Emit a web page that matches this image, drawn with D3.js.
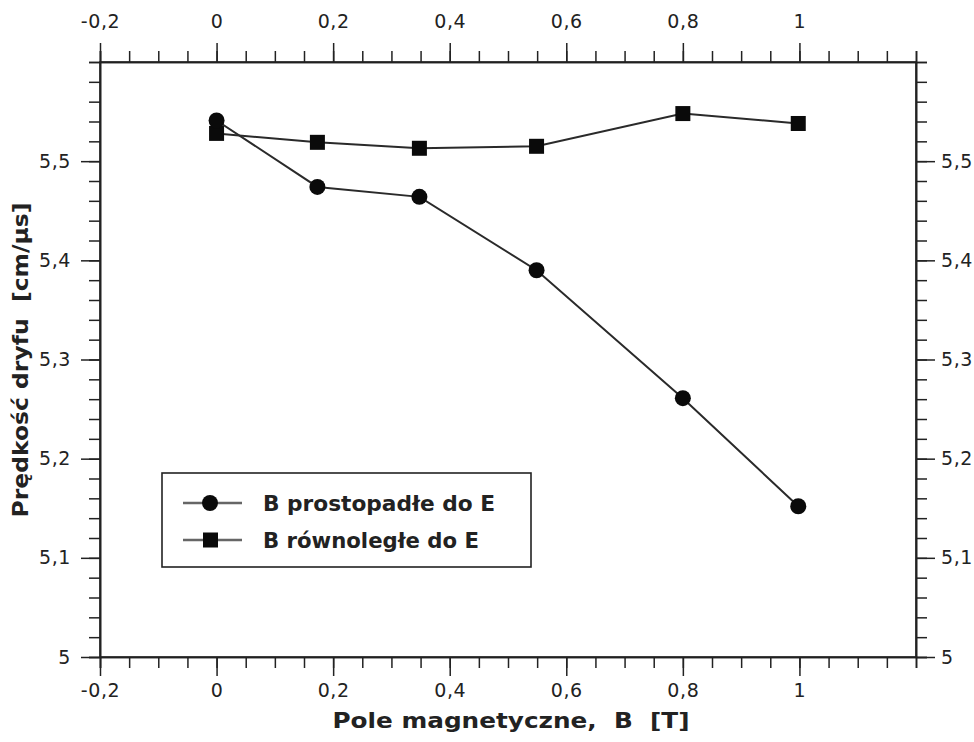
<!DOCTYPE html>
<html>
<head>
<meta charset="utf-8">
<script src="https://cdn.jsdelivr.net/npm/d3@7/dist/d3.min.js"></script>
<style>
  html, body { margin: 0; padding: 0; background: #fff; }
  svg { display: block; }
  text { font-family: "DejaVu Sans", Verdana, sans-serif; fill: #222; white-space: pre; }
</style>
</head>
<body>
<svg id="chart" width="974" height="742"></svg>
<script>
// Magnetic field values [T]
const fieldB = [0, 0.173, 0.348, 0.549, 0.8, 0.998];
// Drift velocity [cm/µs], B perpendicular to E
const vPerp = [5.541, 5.474, 5.464, 5.390, 5.261, 5.152];
// Drift velocity [cm/µs], B parallel to E
const vPar = [5.528, 5.519, 5.513, 5.515, 5.548, 5.538];

const seriesNames = ["B prostopadłe do E", "B równoległe do E"];
const xTickValues = [-0.2, 0, 0.2, 0.4, 0.6, 0.8, 1];
const yTickValues = [5, 5.1, 5.2, 5.3, 5.4, 5.5];
const xTitle = "Pole magnetyczne,  B  [T]";
const yTitle = "Prędkość dryfu  [cm/μs]";

const svg = d3.select("#chart");
const L = 100, R = 916, T = 62, B = 657;

const x = d3.scaleLinear().domain([-0.2, 1.2]).range([L, R]);
const y = d3.scaleLinear().domain([5, 5.6]).range([B, T]);

// decimal comma, plain hyphen for negatives
const fmt = v => {
  const s = Math.abs(v) < 1e-9 ? "0" : String(+v.toFixed(3));
  return s.replace(".", ",");
};

const xMinor = d3.range(-0.2, 1.2001, 0.05).map(v => +v.toFixed(3));
const yMinor = d3.range(5, 5.6001, 0.02).map(v => +v.toFixed(3));

const MAJOR = 19, MINOR = 11;

function styleAxis(g) {
  g.selectAll("path").attr("stroke", "#222").attr("stroke-width", 1.6);
  g.selectAll("line").attr("stroke", "#222").attr("stroke-width", 1.5);
  g.selectAll("text").attr("font-size", 19).attr("letter-spacing", 0.6).attr("fill", "#333");
}

// minor ticks
svg.append("g").attr("transform", `translate(0,${B})`)
  .call(d3.axisBottom(x).tickValues(xMinor).tickSize(MINOR).tickFormat("")).call(styleAxis);
svg.append("g").attr("transform", `translate(0,${T})`)
  .call(d3.axisTop(x).tickValues(xMinor).tickSize(MINOR).tickFormat("")).call(styleAxis);
svg.append("g").attr("transform", `translate(${L},0)`)
  .call(d3.axisLeft(y).tickValues(yMinor).tickSize(MINOR).tickFormat("")).call(styleAxis);
svg.append("g").attr("transform", `translate(${R},0)`)
  .call(d3.axisRight(y).tickValues(yMinor).tickSize(MINOR).tickFormat("")).call(styleAxis);

// major ticks with labels
svg.append("g").attr("transform", `translate(0,${B})`)
  .call(d3.axisBottom(x).tickValues(xTickValues).tickSize(MAJOR).tickPadding(8).tickFormat(fmt).tickSizeOuter(0))
  .call(styleAxis);
svg.append("g").attr("transform", `translate(0,${T})`)
  .call(d3.axisTop(x).tickValues(xTickValues).tickSize(MAJOR).tickPadding(15).tickFormat(fmt).tickSizeOuter(0))
  .call(styleAxis);
svg.append("g").attr("transform", `translate(${L},0)`)
  .call(d3.axisLeft(y).tickValues(yTickValues).tickSize(MAJOR).tickPadding(10).tickFormat(fmt).tickSizeOuter(0))
  .call(styleAxis);
svg.append("g").attr("transform", `translate(${R},0)`)
  .call(d3.axisRight(y).tickValues(yTickValues).tickSize(MAJOR).tickPadding(6).tickFormat(fmt).tickSizeOuter(0))
  .call(styleAxis);

// frame
svg.append("rect").attr("x", L).attr("y", T).attr("width", R - L).attr("height", B - T)
  .attr("fill", "none").attr("stroke", "#222").attr("stroke-width", 1.6);

// axis titles
svg.append("text").attr("x", 511).attr("y", 728).attr("text-anchor", "middle")
  .attr("font-size", 22).attr("font-weight", "bold")
  .attr("textLength", 357).attr("lengthAdjust", "spacingAndGlyphs").text(xTitle);
svg.append("text").attr("transform", `translate(28,${360}) rotate(-90)`)
  .attr("text-anchor", "middle").attr("font-size", 22).attr("font-weight", "bold")
  .attr("textLength", 315).attr("lengthAdjust", "spacingAndGlyphs").text(yTitle);

const line = d3.line().x(d => x(d[0])).y(d => y(d[1]));
const perpPts = fieldB.map((b, i) => [b, vPerp[i]]);
const parPts = fieldB.map((b, i) => [b, vPar[i]]);

function drawSeries(pts, shape) {
  svg.append("path").datum(pts).attr("d", line)
    .attr("fill", "none").attr("stroke", "#2a2a2a").attr("stroke-width", 2);
  const g = svg.append("g");
  if (shape === "circle") {
    g.selectAll("circle").data(pts).join("circle")
      .attr("cx", d => x(d[0])).attr("cy", d => y(d[1])).attr("r", 8).attr("fill", "#0a0a0a");
  } else {
    g.selectAll("rect").data(pts).join("rect")
      .attr("x", d => x(d[0]) - 7.5).attr("y", d => y(d[1]) - 7.5)
      .attr("width", 15).attr("height", 15).attr("fill", "#0a0a0a");
  }
}
drawSeries(parPts, "square");
drawSeries(perpPts, "circle");

// legend
const lg = svg.append("g").attr("transform", "translate(162,473)");
lg.append("rect").attr("width", 369).attr("height", 94)
  .attr("fill", "#fff").attr("stroke", "#222").attr("stroke-width", 1.6);
[0, 1].forEach(i => {
  const cy = 30 + i * 37;
  lg.append("line").attr("x1", 21).attr("x2", 80).attr("y1", cy).attr("y2", cy)
    .attr("stroke", "#666").attr("stroke-width", 2.5);
  if (i === 0) {
    lg.append("circle").attr("cx", 48).attr("cy", cy).attr("r", 8).attr("fill", "#0a0a0a");
  } else {
    lg.append("rect").attr("x", 41).attr("y", cy - 7.5).attr("width", 15).attr("height", 15).attr("fill", "#0a0a0a");
  }
  lg.append("text").attr("x", 101).attr("y", cy + 8).attr("font-size", 22)
    .attr("font-weight", "bold").attr("fill", "#111")
    .attr("textLength", i === 0 ? 232 : 216).attr("lengthAdjust", "spacingAndGlyphs")
    .text(seriesNames[i]);
});
</script>
</body>
</html>
